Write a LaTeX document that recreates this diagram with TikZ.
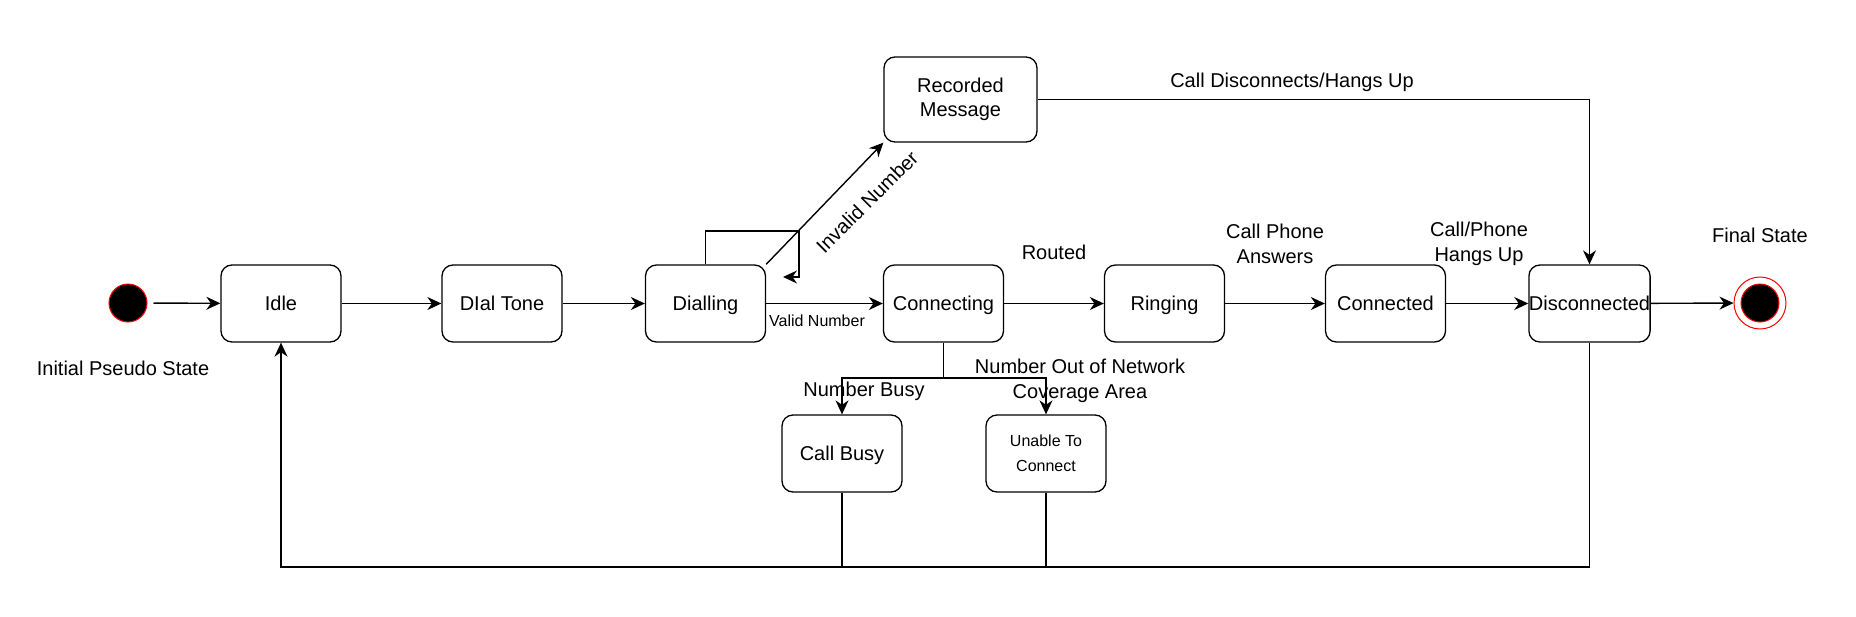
\documentclass[tikz,border=0pt]{standalone}
\usepackage{fontspec}
\setmainfont{Liberation Sans}
\usetikzlibrary{arrows.meta}
\begin{document}
\begin{tikzpicture}[x=1pt,y=-1pt,
  stbox/.style={draw, rounded corners=11pt, minimum width=120pt, minimum height=77pt,
    line width=1.3pt, inner sep=0pt, align=center, font=\fontsize{20}{24}\selectfont},
  one/.style={text height=14.4pt, text depth=0pt},
  lbl/.style={inner sep=0pt, align=center, font=\fontsize{20}{25}\selectfont},
  slbl/.style={inner sep=0pt, align=center, font=\fontsize{16}{20}\selectfont},
  conn/.style={line width=1.4pt},
  arr/.style={conn, -{Stealth[length=14pt,width=13pt,inset=4.5pt]}}]
\useasboundingbox (0,0) rectangle (1856,616);

% states
\node[stbox, one] (idle) at (281,303.5) {Idle};
\node[stbox, one] (dial) at (502,303.5) {DIal Tone};
\node[stbox, one] (dialling) at (705.5,303.5) {Dialling};
\node[stbox, one] (connecting) at (943.5,303.5) {Connecting};
\node[stbox, one] (ringing) at (1164.5,303.5) {Ringing};
\node[stbox, one] (connected) at (1385.5,303.5) {Connected};
\node[stbox, one] (disc) at (1589.5,303.5) {Disconnected};
\node[stbox, minimum width=153pt, minimum height=85pt] (recorded) at (960.5,99.5) {Recorded\\Message};
\node[stbox, one] (busy) at (842,453.5) {Call Busy};
\node[stbox, font=\fontsize{16}{25}\selectfont] (unable) at (1046,453.5) {Unable To\\Connect};

% pseudo states
\node[circle, draw=red, fill=black, line width=1pt, minimum size=38pt, inner sep=0pt] (init) at (128,303) {};
\node[circle, draw=red, line width=1pt, minimum size=52pt, inner sep=0pt] (final) at (1760,303) {};
\node[circle, draw=red, fill=black, line width=1pt, minimum size=38pt, inner sep=0pt] (finalin) at (1760,303) {};

% labels
\node[lbl] (tInit) at (123,368) {Initial Pseudo State};
\node[lbl] (tFinal) at (1760,235) {Final State};
\node[lbl] (tRouted) at (1054,252) {Routed};
\node[lbl] (tAns) at (1275,243.5) {Call Phone\\Answers};
\node[lbl] (tHang) at (1479,243.5) {Call/Phone\\Hangs Up};
\node[lbl] (tDisc) at (1292,82) {Call Disconnects/Hangs Up};
\node[lbl] (tBusy) at (864,391) {Number Busy};
\node[lbl] (tOut) at (1080,381) {Number Out of Network\\Coverage Area};
\node[slbl] (tValid) at (817,321) {Valid Number};
\node[lbl, rotate=45] (tInvalid) at (867,202) {Invalid Number};

% connectors
\draw[arr, shorten <=6pt] (init) -- (idle);
\draw[arr] (idle) -- (dial);
\draw[arr] (dial) -- (dialling);
\draw[arr] (dialling) -- (connecting);
\draw[arr] (connecting) -- (ringing);
\draw[arr] (ringing) -- (connected);
\draw[arr] (connected) -- (disc);
\draw[arr] (disc) -- (final);

\coordinate (l1) at (799,231);
\coordinate (l2) at (783,277);
\draw[arr] (dialling.north) |- (l1) |- (l2);
\draw[arr] (dialling.north east) -- (recorded.south west);
\draw[arr] (recorded.east) -| (disc.north);

\coordinate (j) at (943.5,378);
\draw[arr] (connecting.south) -- (j) -| (busy.north);
\draw[arr] (j) -| (unable.north);

\coordinate (b) at (1589.5,567);
\draw[arr] (disc.south) -- (b) -| (idle.south);
\draw[conn] (busy.south) -- (busy.south |- b);
\draw[conn] (unable.south) -- (unable.south |- b);
\end{tikzpicture}
\end{document}
